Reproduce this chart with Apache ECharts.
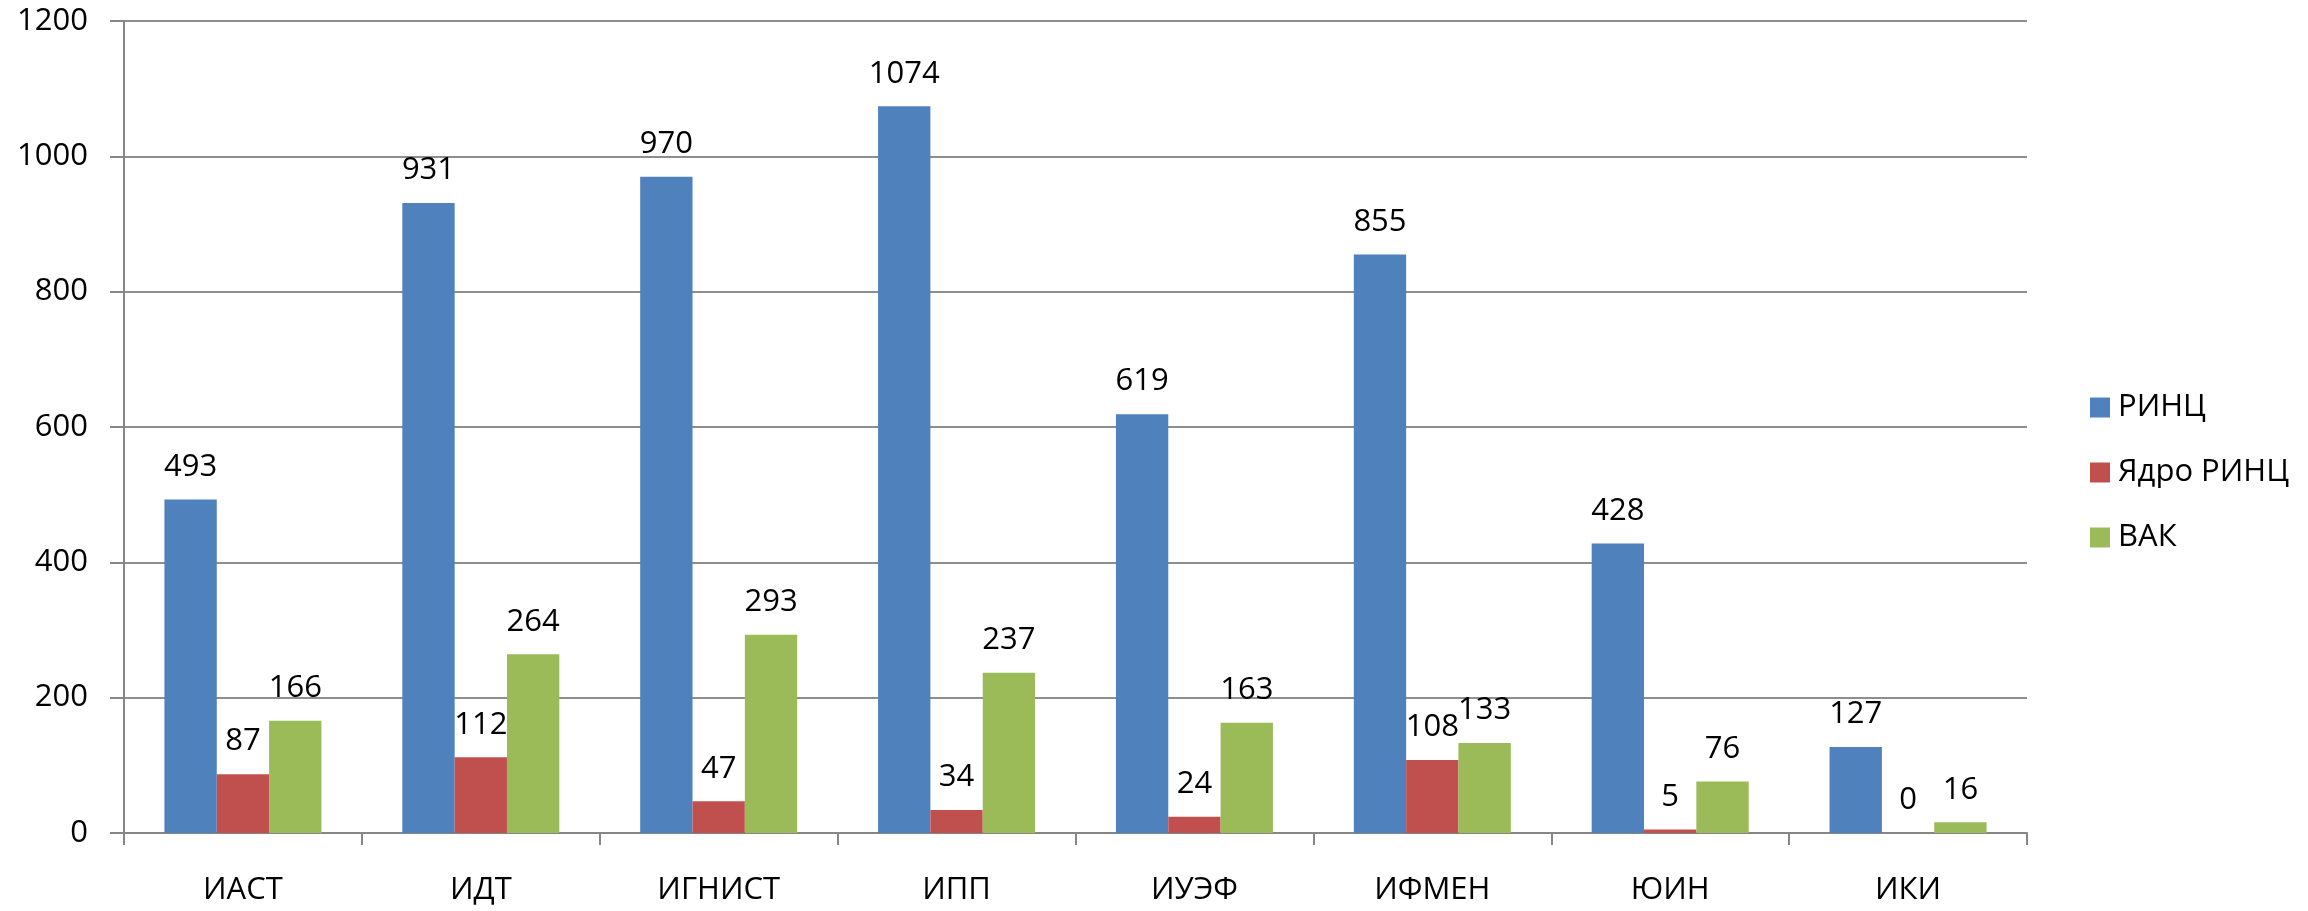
<!DOCTYPE html>
<html>
<head>
<meta charset="utf-8">
<script src="https://cdn.jsdelivr.net/npm/echarts@6/dist/echarts.min.js"></script>
<style>
html,body{margin:0;padding:0;background:#fff;}
#chart{width:2308px;height:911px;}
</style>
</head>
<body>
<div id="chart"></div>
<script>
const categories = ['ИАСТ', 'ИДТ', 'ИГНИСТ', 'ИПП', 'ИУЭФ', 'ИФМЕН', 'ЮИН', 'ИКИ'];
const seriesNames = ['РИНЦ', 'Ядро РИНЦ', 'ВАК'];
const rinc = [493, 931, 970, 1074, 619, 855, 428, 127];
const core = [87, 112, 47, 34, 24, 108, 5, 0];
const vak = [166, 264, 293, 237, 163, 133, 76, 16];
const colors = ['#4F81BD', '#C0504D', '#9BBB59'];

const font = 'Open Sans';
const chart = echarts.init(document.getElementById('chart'), null, {renderer: 'canvas'});

function mkSeries(name, data, color) {
  return {
    name: name,
    type: 'bar',
    data: data,
    barGap: '0%',
    barCategoryGap: '34%',
    itemStyle: {color: color},
    label: {
      show: true,
      position: 'top',
      distance: 17,
      color: '#000',
      fontFamily: font,
      fontSize: 31
    }
  };
}

chart.setOption({
  animation: false,
  backgroundColor: '#fff',
  color: colors,
  grid: {left: 124, right: 281, top: 21, bottom: 78, containLabel: false},
  legend: {
    orient: 'vertical',
    left: 2085,
    top: 387,
    itemWidth: 20,
    itemHeight: 20,
    itemGap: 34,
    icon: 'rect',
    data: seriesNames,
    textStyle: {fontFamily: font, fontSize: 31, color: '#000', lineHeight: 31, padding: [0, 0, 0, 3]}
  },
  xAxis: {
    type: 'category',
    data: categories,
    axisLine: {show: true, lineStyle: {color: '#868686', width: 2}},
    axisTick: {show: true, length: 12, lineStyle: {color: '#868686', width: 2}},
    axisLabel: {fontFamily: font, fontSize: 31, color: '#000', margin: 42}
  },
  yAxis: {
    type: 'value',
    min: 0,
    max: 1200,
    interval: 200,
    axisLine: {show: true, lineStyle: {color: '#868686', width: 2}},
    axisTick: {show: true, length: 14, lineStyle: {color: '#868686', width: 2}},
    splitLine: {show: true, lineStyle: {color: '#8E8E8E', width: 2}},
    axisLabel: {fontFamily: font, fontSize: 31, color: '#000', margin: 36, formatter: function (v) { return String(v); }}
  },
  series: [
    mkSeries(seriesNames[0], rinc, colors[0]),
    mkSeries(seriesNames[1], core, colors[1]),
    mkSeries(seriesNames[2], vak, colors[2])
  ]
});
</script>
</body>
</html>
